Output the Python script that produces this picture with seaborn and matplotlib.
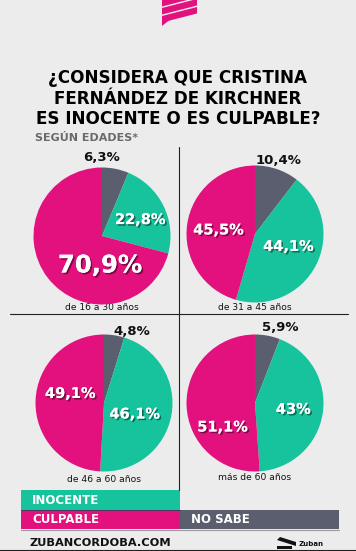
import matplotlib
matplotlib.use("Agg")
import matplotlib.pyplot as plt
import matplotlib.patheffects as pe
from matplotlib.patches import Polygon, Rectangle
import seaborn as sns

# Data
groups = ["de 16 a 30 años", "de 31 a 45 años", "de 46 a 60 años", "más de 60 años"]
no_sabe = [6.3, 10.4, 4.8, 5.9]
inocente = [22.8, 44.1, 46.1, 43.0]
culpable = [70.9, 45.5, 49.1, 51.1]
legend_labels = ["INOCENTE", "CULPABLE", "NO SABE"]

# Colours
GREEN = "#17c39c"
PINK = "#e2117e"
GRAY = "#5b5e6e"
BG = "#ececec"

sns.set_theme(style="white")
plt.rcParams['font.family'] = ['DejaVu Sans']

W, H = 356, 551
fig = plt.figure(figsize=(W / 100, H / 100), dpi=100)
fig.patch.set_facecolor(BG)

# Background axes in pixel coords
bg = fig.add_axes([0, 0, 1, 1])
bg.set_xlim(0, W)
bg.set_ylim(H, 0)
bg.axis("off")
bg.set_facecolor(BG)


def fmt(v):
    return f"{v:g}".replace(".", ",") + "%"


# pink logo stripes on top
for i in range(3):
    y0 = 0 + 8 * i
    bg.add_patch(Polygon([(162, y0), (197, y0 - 9), (197, y0 - 2.5), (162, y0 + 6.5)],
                         closed=True, color=PINK, lw=0))
bg.add_patch(Polygon([(162, 20), (172, 18), (162, 26)], closed=True, color=PINK, lw=0))

# Title
title_lines = ["¿CONSIDERA QUE CRISTINA", "FERNÁNDEZ DE KIRCHNER", "ES INOCENTE O ES CULPABLE?"]
for i, line in enumerate(title_lines):
    bg.text(178, 78 + i * 20.5, line, ha="center", va="center",
            fontsize=12.1, fontweight="bold", color="black")
bg.text(35, 138, "SEGÚN EDADES*", ha="left", va="center",
        fontsize=8, fontweight="bold", color="#6a6a6a")

# Divider lines
bg.plot([179, 179], [147, 490], color="#222222", lw=0.8)
bg.plot([10, 348], [313.5, 313.5], color="#222222", lw=0.8)

# Pie layout: center (px) and radius
centers = [(102, 236), (255, 234), (104, 403), (255, 403)]
radius = 68.5
age_y = [307, 307, 480, 477]
# label offsets in radius units: (no sabe, inocente, culpable)
label_pos = [
    [(0.0, 1.15), (0.56, 0.24), (-0.03, -0.43)],
    [(0.35, 1.08), (0.49, -0.18), (-0.53, 0.06)],
    [(0.41, 1.05), (0.45, -0.16), (-0.49, 0.14)],
    [(0.37, 1.10), (0.56, -0.09), (-0.47, -0.35)],
]
shadow = [pe.withSimplePatchShadow(offset=(1.2, -1.2), shadow_rgbFace="black", alpha=0.45),
          pe.Normal()]

for k, (cx, cy) in enumerate(centers):
    ax = fig.add_axes([(cx - radius) / W, 1 - (cy + radius) / H,
                       2 * radius / W, 2 * radius / H])
    vals = [no_sabe[k], inocente[k], culpable[k]]
    ax.pie(vals, colors=[GRAY, GREEN, PINK], startangle=90, counterclock=False,
           radius=1, wedgeprops=dict(linewidth=0))
    ax.set_xlim(-1, 1)
    ax.set_ylim(-1, 1)
    ax.axis("off")
    # gray label (black, outside)
    gx, gy = label_pos[k][0]
    ax.text(gx, gy, fmt(no_sabe[k]), ha="center", va="center",
            fontsize=9.5, fontweight="bold", color="#111111")
    big = culpable[k] > 60
    ix, iy = label_pos[k][1]
    ax.text(ix, iy, fmt(inocente[k]), ha="center", va="center",
            fontsize=10.5, fontweight="bold", color="white", path_effects=shadow)
    px, py = label_pos[k][2]
    ax.text(px, py, fmt(culpable[k]), ha="center", va="center",
            fontsize=17.5 if big else 10.5, fontweight="bold", color="white",
            path_effects=shadow)
    bg.text(cx, age_y[k], groups[k], ha="center", va="center",
            fontsize=6.6, color="#111111")

# Legend boxes
boxes = [(21, 490, GREEN), (21, 509.5, PINK), (180, 509.5, GRAY)]
for (x0, y0, c), lab in zip(boxes, legend_labels):
    bg.add_patch(Rectangle((x0, y0), 159, 19.5, color=c, lw=0))
    bg.text(x0 + 11, y0 + 10, lab, ha="left", va="center",
            fontsize=8.5, fontweight="bold", color="white")
bg.plot([21, 180], [509.5, 509.5], color="#3a3a5a", lw=0.6)
bg.plot([21, 339], [529.5, 529.5], color="#9a9a9a", lw=0.8)

# Footer
bg.text(30, 543, "ZUBANCORDOBA.COM", ha="left", va="center",
        fontsize=8.2, fontweight="bold", color="#111111")
bg.add_patch(Polygon([(277, 540), (280, 537), (296, 542), (296, 546)],
                     closed=True, color="#111111", lw=0))
bg.add_patch(Polygon([(277, 546), (292, 546), (292, 549), (277, 549)],
                     closed=True, color="#111111", lw=0))
bg.text(299, 544, "Zuban", ha="left", va="center",
        fontsize=5, fontweight="bold", color="#111111")
bg.plot([0, W], [550.5, 550.5], color="#222222", lw=1.5)

fig.savefig("out.png", dpi=100, facecolor=fig.get_facecolor())
